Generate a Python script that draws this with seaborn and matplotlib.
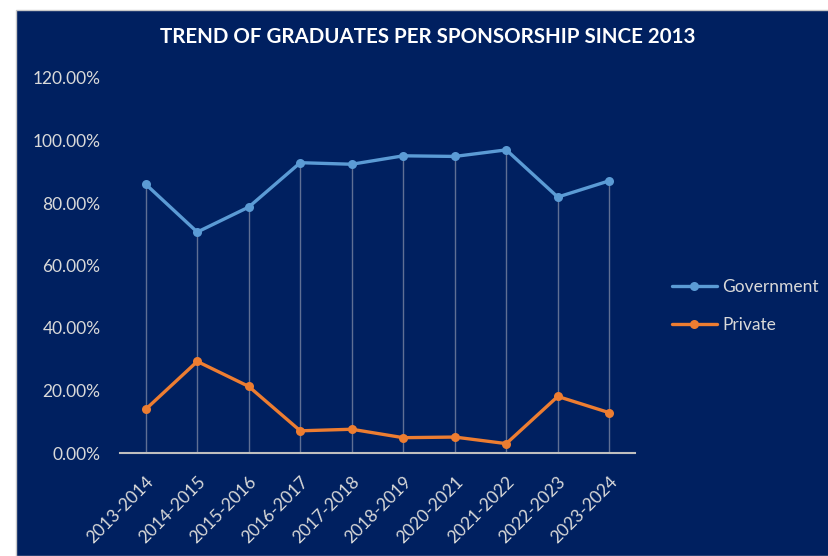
import pandas as pd
import matplotlib.pyplot as plt
import matplotlib.patches as mpatches
from matplotlib.ticker import FuncFormatter
import seaborn as sns

# data
years = ['2013-2014', '2014-2015', '2015-2016', '2016-2017', '2017-2018',
         '2018-2019', '2020-2021', '2021-2022', '2022-2023', '2023-2024']
government = [0.860, 0.707, 0.787, 0.929, 0.924, 0.951, 0.949, 0.970, 0.819, 0.871]
private = [0.140, 0.293, 0.213, 0.071, 0.076, 0.049, 0.051, 0.030, 0.181, 0.129]

navy = '#002060'
txt = '#D9D9D9'

df = pd.DataFrame({'year': years * 2,
                   'share': government + private,
                   'sponsor': ['Government'] * len(years) + ['Private'] * len(years)})

sns.set_style('white')
plt.rcParams['font.family'] = ['Lato', 'DejaVu Sans']

fig = plt.figure(figsize=(8.29, 5.56), dpi=100)
fig.patch.set_facecolor('white')
# chart area panel (white margin at top/left like the screenshot)
fig.patches.append(mpatches.Rectangle((16 / 829, 0), 1, 1 - 10 / 556, transform=fig.transFigure,
                                      facecolor=navy, edgecolor='#C8C8C8', linewidth=1, zorder=-5))

ax = fig.add_axes([120 / 829, 1 - 453 / 556, 515 / 829, 375 / 556])
ax.set_facecolor(navy)

# drop lines from the highest point down to the axis
tops = [max(g, p) for g, p in zip(government, private)]
ax.vlines(range(len(years)), 0, tops, color='#5F6F94', linewidth=1, zorder=1)

sns.lineplot(data=df, x='year', y='share', hue='sponsor', palette=['#5B9BD5', '#ED7D31'],
             marker='o', markersize=6.5, markeredgewidth=0, linewidth=2.4, ax=ax, zorder=3)

ax.set_xlim(-0.5, len(years) - 0.5)
ax.set_ylim(0, 1.2)
ax.set_yticks([0, 0.2, 0.4, 0.6, 0.8, 1.0, 1.2])
ax.yaxis.set_major_formatter(FuncFormatter(lambda v, p: f'{v * 100:.2f}%'))
ax.set_xlabel('')
ax.set_ylabel('')
for s in ['top', 'right', 'left']:
    ax.spines[s].set_visible(False)
ax.spines['bottom'].set_color('#BFBFBF')
ax.spines['bottom'].set_linewidth(1.5)
ax.tick_params(axis='y', length=0, labelcolor=txt, labelsize=12.5, pad=14)
ax.tick_params(axis='x', length=0, labelcolor=txt, labelsize=12.5, pad=15)
plt.setp(ax.get_xticklabels(), rotation=45, ha='right', rotation_mode='anchor')

fig.text(428 / 829, 1 - 37 / 556, 'TREND OF GRADUATES PER SPONSORSHIP SINCE 2013',
         color='white', fontsize=14.8, fontweight='bold', ha='center', va='center')

leg = ax.legend(loc='center left', bbox_to_anchor=(656 / 829, 1 - 306 / 556),
                bbox_transform=fig.transFigure, frameon=False, fontsize=12.5,
                handlelength=2.6, handletextpad=0.3, labelspacing=1.3)
for t in leg.get_texts():
    t.set_color(txt)

fig.savefig('out.png', dpi=100, facecolor=fig.get_facecolor())
